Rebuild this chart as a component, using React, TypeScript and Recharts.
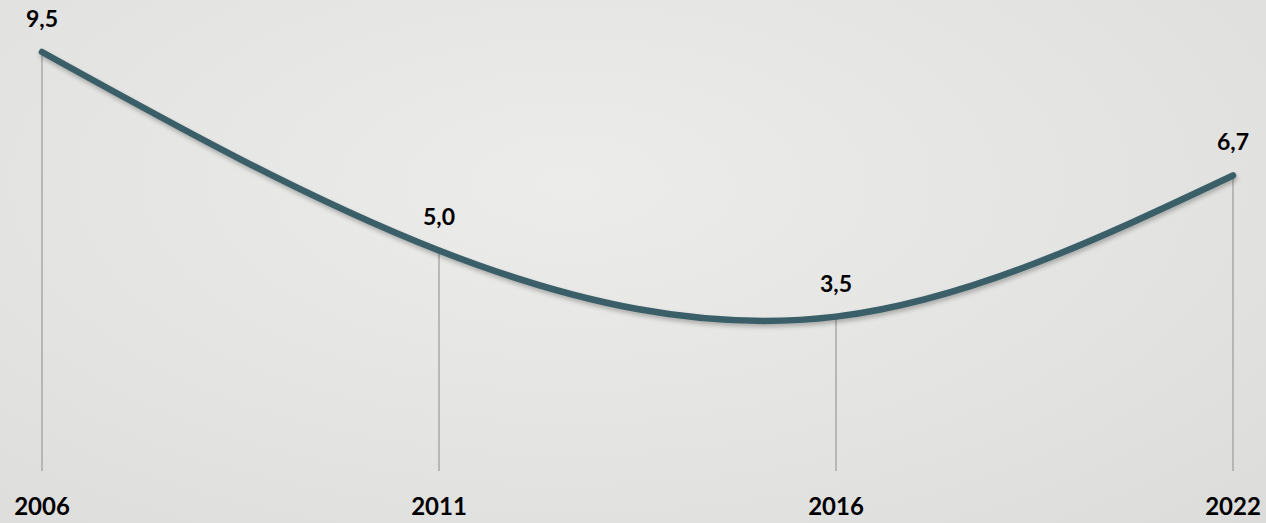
import { LineChart, Line, XAxis, YAxis, ReferenceLine, LabelList } from 'recharts';

// values
const years = ['2006', '2011', '2016', '2022'];
const rates = [9.5, 5.0, 3.5, 6.7];

const data = years.map((year, i) => ({ year, rate: rates[i] }));

const fmt = (v: number) => v.toFixed(1).replace('.', ',');

const font = 'Lato, "Liberation Sans", Arial, sans-serif';

export default function App() {
  return (
    <div
      style={{
        position: 'absolute',
        left: 0,
        top: 0,
        width: 1266,
        height: 523,
        background: 'radial-gradient(ellipse at 45% 35%, #ececea 0%, #e3e3e1 60%, #dcdcda 100%)',
        fontFamily: font,
      }}
    >
      <style>{`.trend-line .recharts-line-curve { filter: drop-shadow(1px 3px 2px rgba(0,0,0,0.25)); }`}</style>
      <LineChart width={1266} height={523} data={data} margin={{ top: 52, right: 33, left: 42, bottom: 0 }}>
        <XAxis
          dataKey="year"
          axisLine={false}
          tickLine={false}
          height={52}
          interval={0}
          tickMargin={21}
          tick={{ fill: '#000', fontSize: 24, fontWeight: 700, fontFamily: font }}
        />
        <YAxis hide domain={[0, 9.5]} />
        {years.map((y, i) => (
          <ReferenceLine
            key={y}
            segment={[{ x: y, y: 0 }, { x: y, y: rates[i] }]}
            stroke="#a9a9a9"
            strokeWidth={1.5}
          />
        ))}
        <Line
          className="trend-line"
          type="natural"
          dataKey="rate"
          stroke="#3a5f68"
          strokeWidth={6.5}
          strokeLinecap="round"
          dot={false}
          activeDot={false}
          isAnimationActive={false}
        >
          <LabelList
            dataKey="rate"
            position="top"
            offset={25}
            formatter={(v: any) => fmt(Number(v))}
            style={{ fill: '#000', fontSize: 23, fontWeight: 700, fontFamily: font }}
          />
        </Line>
      </LineChart>
    </div>
  );
}
